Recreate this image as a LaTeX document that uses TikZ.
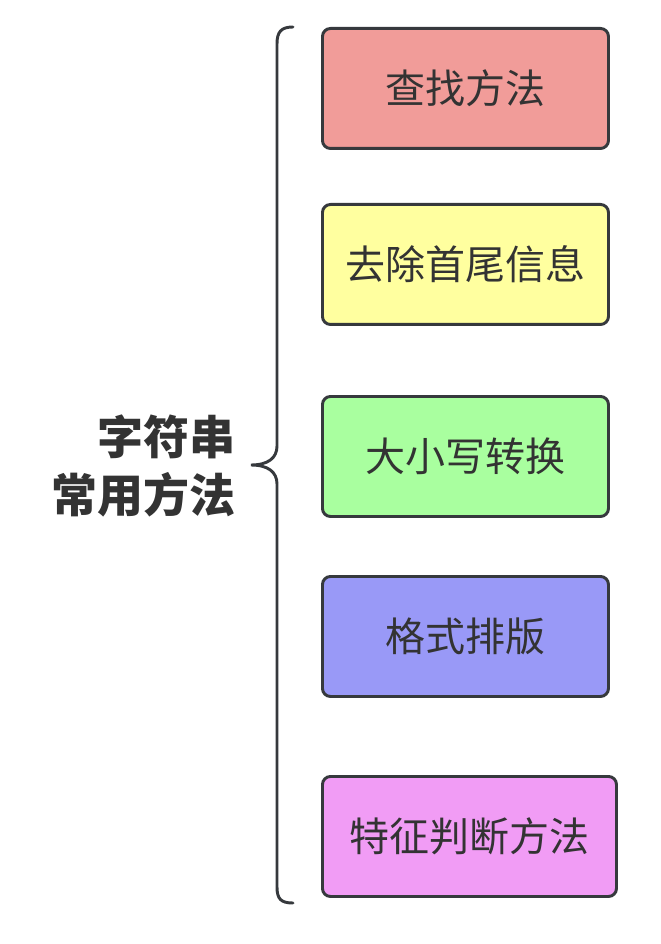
\documentclass[tikz,border=0pt]{standalone}
\usepackage{fontspec}
\setmainfont{Noto Sans CJK SC}
\begin{document}
\begin{tikzpicture}[x=0.75pt,y=-0.75pt,
  item/.style={draw=strokegray,line width=2.2pt,rounded corners=6pt,minimum height=90pt,anchor=north west,inner sep=0pt,font=\fontsize{30}{36}\selectfont,text=textgray},
  bracestyle/.style={draw=strokegray,line width=2.2pt,line cap=round}]
\definecolor{strokegray}{HTML}{36393D}
\definecolor{textgray}{HTML}{333333}
\definecolor{cred}{HTML}{F19C99}
\definecolor{cyellow}{HTML}{FFFF9F}
\definecolor{cgreen}{HTML}{A9FF9F}
\definecolor{cblue}{HTML}{9999F7}
\definecolor{cpink}{HTML}{F19CF5}
\useasboundingbox (0,0) rectangle (660,944);
\node[item,fill=cred,minimum width=214.5pt] (b1) at (321,27) {查找方法};
\node[item,fill=cyellow,minimum width=214.5pt] (b2) at (321,203) {去除首尾信息};
\node[item,fill=cgreen,minimum width=214.5pt] (b3) at (321,395) {大小写转换};
\node[item,fill=cblue,minimum width=214.5pt] (b4) at (321,575) {格式排版};
\node[item,fill=cpink,minimum width=220.5pt] (b5) at (321,775) {特征判断方法};
\node[anchor=east,align=right,font=\bfseries\fontsize{34.5}{44}\selectfont,text=textgray] (title) at (240,466) {字符串\\常用方法};
\draw[bracestyle] (293,27) .. controls (281,27) and (277,32) .. (277,44)
  -- (277,446) .. controls (277,458) and (268,465) .. (251,465)
  .. controls (268,465) and (277,472) .. (277,484)
  -- (277,887) .. controls (277,899) and (281,903) .. (293,903);
\end{tikzpicture}
\end{document}
